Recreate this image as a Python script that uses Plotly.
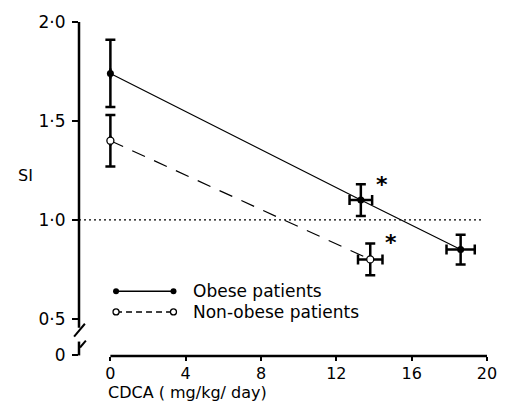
import plotly.graph_objects as go

# ---- data ----
obese_x = [0, 13.3, 18.6]
obese_y = [1.74, 1.10, 0.85]
obese_yerr = [0.17, 0.08, 0.075]
obese_xerr = [0, 0.6, 0.75]

nonobese_x = [0, 13.8]
nonobese_y = [1.40, 0.80]
nonobese_yerr = [0.13, 0.08]
nonobese_xerr = [0, 0.65]

x_ticks = [0, 4, 8, 12, 16, 20]
y_tick_vals = [0.315, 0.5, 1.0, 1.5, 2.0]   # 0 sits below the axis break
y_tick_text = ["0", "0·5", "1·0", "1·5", "2·0"]
reference_si = 1.0

FONT = "DejaVu Sans"
PX = 1 / 416  # one pixel in paper x units

fig = go.Figure()

fig.add_trace(go.Scatter(
    x=nonobese_x, y=nonobese_y, mode="lines+markers",
    line=dict(color="black", width=1.2, dash="14px,10px"),
    marker=dict(symbol="circle", size=7, color="white", line=dict(color="black", width=1.3)),
    error_y=dict(type="data", array=nonobese_yerr, color="black", thickness=2.5, width=5),
    error_x=dict(type="data", array=nonobese_xerr, color="black", thickness=2.5, width=5),
    showlegend=False, hoverinfo="skip"))

fig.add_trace(go.Scatter(
    x=obese_x, y=obese_y, mode="lines+markers",
    line=dict(color="black", width=1.2),
    marker=dict(symbol="circle", size=7, color="black"),
    error_y=dict(type="data", array=obese_yerr, color="black", thickness=2.5, width=5),
    error_x=dict(type="data", array=obese_xerr, color="black", thickness=2.5, width=5),
    showlegend=False, hoverinfo="skip"))

# legend samples
leg_x = [0.3, 3.35]
fig.add_trace(go.Scatter(x=leg_x, y=[0.639, 0.639], mode="lines+markers",
                         line=dict(color="black", width=1.5),
                         marker=dict(size=6, color="black"),
                         showlegend=False, hoverinfo="skip"))
fig.add_trace(go.Scatter(x=leg_x, y=[0.535, 0.535], mode="lines+markers",
                         line=dict(color="black", width=1.5, dash="6px,4px"),
                         marker=dict(size=6, color="white", line=dict(color="black", width=1.3)),
                         showlegend=False, hoverinfo="skip"))

shapes = []
# reference dotted line
shapes.append(dict(type="line", xref="paper", yref="y", x0=0, x1=0.99,
                   y0=reference_si, y1=reference_si,
                   line=dict(color="black", width=1.2, dash="2px,3px")))
# y axis with break
shapes.append(dict(type="line", xref="paper", yref="y", x0=0, x1=0, y0=2.0, y1=0.455,
                   line=dict(color="black", width=2.5)))
shapes.append(dict(type="line", xref="paper", yref="y", x0=-5 * PX, x1=6 * PX, y0=0.41, y1=0.475,
                   line=dict(color="black", width=2)))
shapes.append(dict(type="line", xref="paper", yref="y", x0=1 * PX, x1=7 * PX, y0=0.355, y1=0.39,
                   line=dict(color="black", width=2)))
shapes.append(dict(type="line", xref="paper", yref="y", x0=0, x1=0, y0=0.385, y1=0.315,
                   line=dict(color="black", width=2.5)))
# x axis line
shapes.append(dict(type="line", xref="x", yref="paper", x0=0, x1=20, y0=0, y1=0,
                   line=dict(color="black", width=2.5)))

annotations = [
    dict(text="<b>*</b>", x=14.45, y=1.18, xref="x", yref="y", showarrow=False,
         font=dict(family=FONT, size=22, color="black")),
    dict(text="<b>*</b>", x=14.9, y=0.885, xref="x", yref="y", showarrow=False,
         font=dict(family=FONT, size=22, color="black")),
    dict(text="Obese patients", x=0.274, y=0.194, xref="paper", yref="paper",
         xanchor="left", yanchor="middle", showarrow=False,
         font=dict(family=FONT, size=17, color="black")),
    dict(text="Non-obese patients", x=0.274, y=0.132, xref="paper", yref="paper",
         xanchor="left", yanchor="middle", showarrow=False,
         font=dict(family=FONT, size=17, color="black")),
    dict(text="SI", x=-0.13, y=0.54, xref="paper", yref="paper",
         xanchor="center", yanchor="middle", showarrow=False,
         font=dict(family=FONT, size=16, color="black")),
    dict(text="CDCA ( mg/kg/ day)", x=0.067, y=-0.109, xref="paper", yref="paper",
         xanchor="left", yanchor="middle", showarrow=False,
         font=dict(family=FONT, size=16, color="black")),
]

fig.update_layout(
    width=509, height=408,
    margin=dict(l=79, r=14, t=15, b=52),
    paper_bgcolor="white", plot_bgcolor="white",
    shapes=shapes, annotations=annotations,
    xaxis=dict(range=[-1.667, 20], tickvals=x_ticks, ticktext=[str(v) for v in x_ticks],
               showgrid=False, zeroline=False, showline=False,
               ticks="outside", ticklen=4, tickwidth=2, tickcolor="black",
               ticklabelstandoff=-1,
               tickfont=dict(family=FONT, size=16, color="black")),
    yaxis=dict(range=[0.312, 2.0], tickvals=y_tick_vals, ticktext=y_tick_text,
               showgrid=False, zeroline=False, showline=False,
               ticks="outside", ticklen=6, tickwidth=2, tickcolor="black",
               ticklabelstandoff=3,
               tickfont=dict(family=FONT, size=17, color="black")),
)

fig.write_html("out.html", config={"displayModeBar": False},
               post_script="document.body.style.margin='0';document.body.style.overflow='hidden';")
